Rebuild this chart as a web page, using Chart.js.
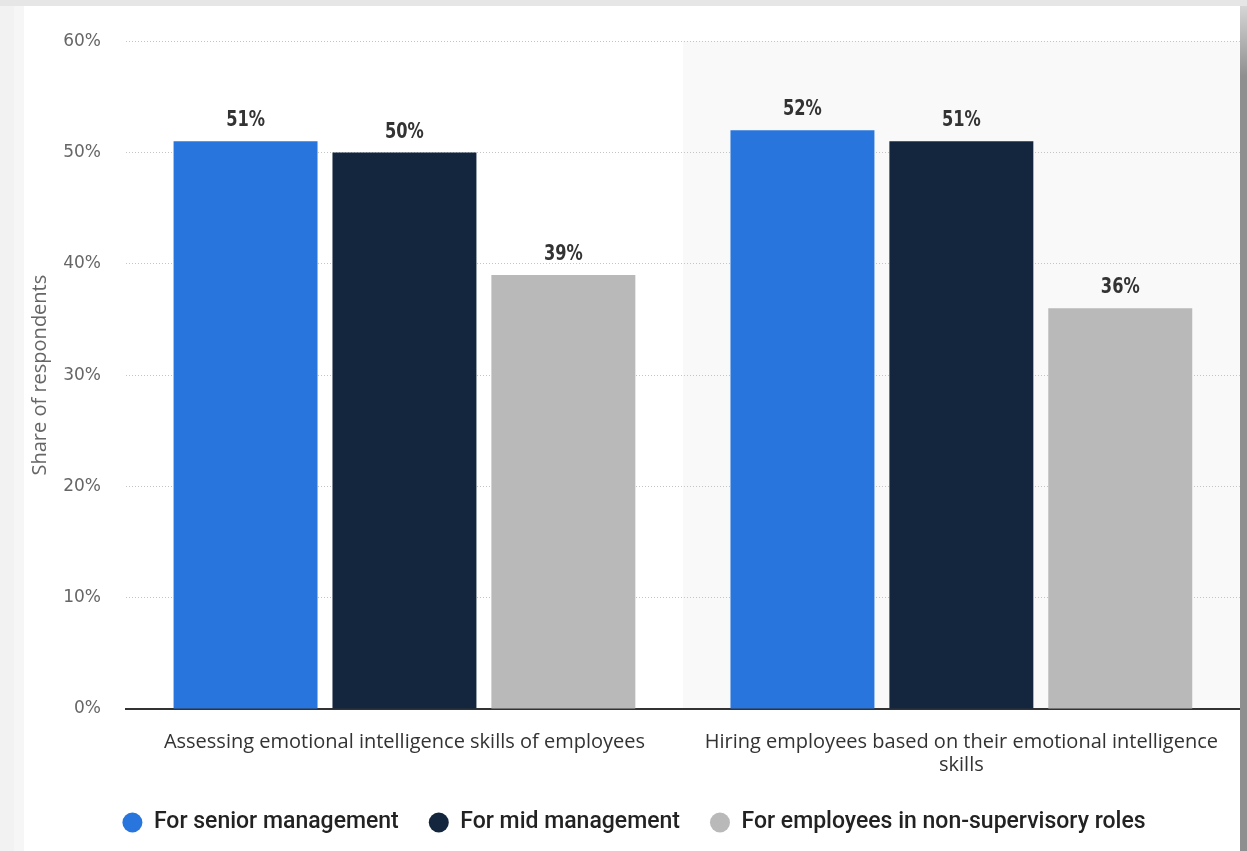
<!DOCTYPE html>
<html>
<head>
<meta charset="utf-8">
<script src="https://cdn.jsdelivr.net/npm/chart.js@4.4.1/dist/chart.umd.min.js"></script>
<style>
  html, body { margin: 0; padding: 0; }
  body { width: 1247px; height: 851px; background: #e6e6e6; position: relative; overflow: hidden; }
  .gutter { position: absolute; left: 0; top: 6px; width: 24px; height: 845px; background: linear-gradient(90deg, #f2f2f2 0 14px, #f6f6f6 14px 24px); }
  .panel { position: absolute; left: 24px; top: 6px; width: 1216px; height: 845px; background: #fff; }
  .scroll { position: absolute; left: 1240px; top: 6px; width: 7px; height: 845px; background: linear-gradient(#d6d6d6, #8f8f8f 70px, #8f8f8f); }
  canvas { display: block; }
</style>
</head>
<body>
<div class="gutter"></div>
<div class="panel"><canvas id="chart" width="1216" height="845"></canvas></div>
<div class="scroll"></div>
<script>
const categories = [
  'Assessing emotional intelligence skills of employees',
  ['Hiring employees based on their emotional intelligence', 'skills']
];
const seriesNames = ['For senior management', 'For mid management', 'For employees in non-supervisory roles'];
const seniorValues = [51, 52];
const midValues = [50, 51];
const nonSupervisoryValues = [39, 36];
const yTicks = [0, 10, 20, 30, 40, 50, 60];

const seriesColors = ['#2876dd', '#13263e', '#b9b9b9'];

// light band behind the second category
const bandPlugin = {
  id: 'band',
  beforeDraw(chart) {
    const { ctx, chartArea, scales } = chart;
    const x = scales.x;
    const half = (x.getPixelForTick(1) - x.getPixelForTick(0)) / 2;
    const left = x.getPixelForTick(1) - half;
    ctx.save();
    ctx.fillStyle = '#f9f9f9';
    ctx.fillRect(left, chartArea.top, chartArea.right - left, chartArea.bottom - chartArea.top);
    ctx.restore();
  }
};

// value labels above each bar, squeezed a little horizontally
const valueLabels = {
  id: 'valueLabels',
  afterDatasetsDraw(chart) {
    const { ctx } = chart;
    ctx.save();
    ctx.font = 'bold 22px "DejaVu Sans Condensed", "Liberation Sans Narrow", "Roboto", sans-serif';
    ctx.fillStyle = '#333';
    ctx.textAlign = 'center';
    ctx.textBaseline = 'alphabetic';
    chart.data.datasets.forEach((ds, i) => {
      chart.getDatasetMeta(i).data.forEach((bar, j) => {
        ctx.save();
        ctx.translate(bar.x, bar.y - 15);
        ctx.scale(0.82, 1);
        ctx.fillText(ds.data[j] + '%', 0, 0);
        ctx.restore();
      });
    });
    ctx.restore();
  }
};

const makeDataset = (label, data, color) => ({
  label,
  data,
  backgroundColor: color,
  borderWidth: 0,
  categoryPercentage: 0.856,
  barPercentage: 0.906
});

new Chart(document.getElementById('chart'), {
  type: 'bar',
  data: {
    labels: categories,
    datasets: [
      makeDataset(seriesNames[0], seniorValues, seriesColors[0]),
      makeDataset(seriesNames[1], midValues, seriesColors[1]),
      makeDataset(seriesNames[2], nonSupervisoryValues, seriesColors[2])
    ]
  },
  options: {
    responsive: false,
    animation: false,
    layout: { padding: { top: 30, right: 0, bottom: 7, left: 4 } },
    plugins: {
      tooltip: { enabled: false },
      legend: {
        position: 'bottom',
        labels: {
          usePointStyle: true,
          pointStyle: 'circle',
          pointStyleWidth: 20,
          boxHeight: 14,
          padding: 30,
          color: '#222',
          font: { family: 'Roboto', size: 23, weight: '500' }
        }
      }
    },
    scales: {
      x: {
        grid: { display: false, drawTicks: false },
        border: { display: true, color: '#333', width: 2 },
        ticks: {
          color: '#333',
          padding: 22,
          maxRotation: 0,
          autoSkip: false,
          font: { family: '"Open Sans"', size: 20, lineHeight: 1.15 }
        },
        afterFit(scale) { scale.height = 72; }
      },
      y: {
        min: 0,
        max: 60,
        afterBuildTicks(scale) { scale.ticks = yTicks.map(v => ({ value: v })); },
        grid: { color: '#c4c4c4', lineWidth: 1, drawTicks: false },
        border: { display: false, dash: [1, 2] },
        ticks: {
          color: '#666',
          padding: 25,
          font: { family: '"DejaVu Sans"', size: 17 },
          callback: v => v + '%'
        },
        title: {
          display: true,
          text: 'Share of respondents',
          color: '#666',
          padding: 0,
          font: { family: '"Open Sans"', size: 20 }
        },
        afterFit(scale) { scale.width = 98; }
      }
    }
  },
  plugins: [bandPlugin, valueLabels]
});
</script>
</body>
</html>
